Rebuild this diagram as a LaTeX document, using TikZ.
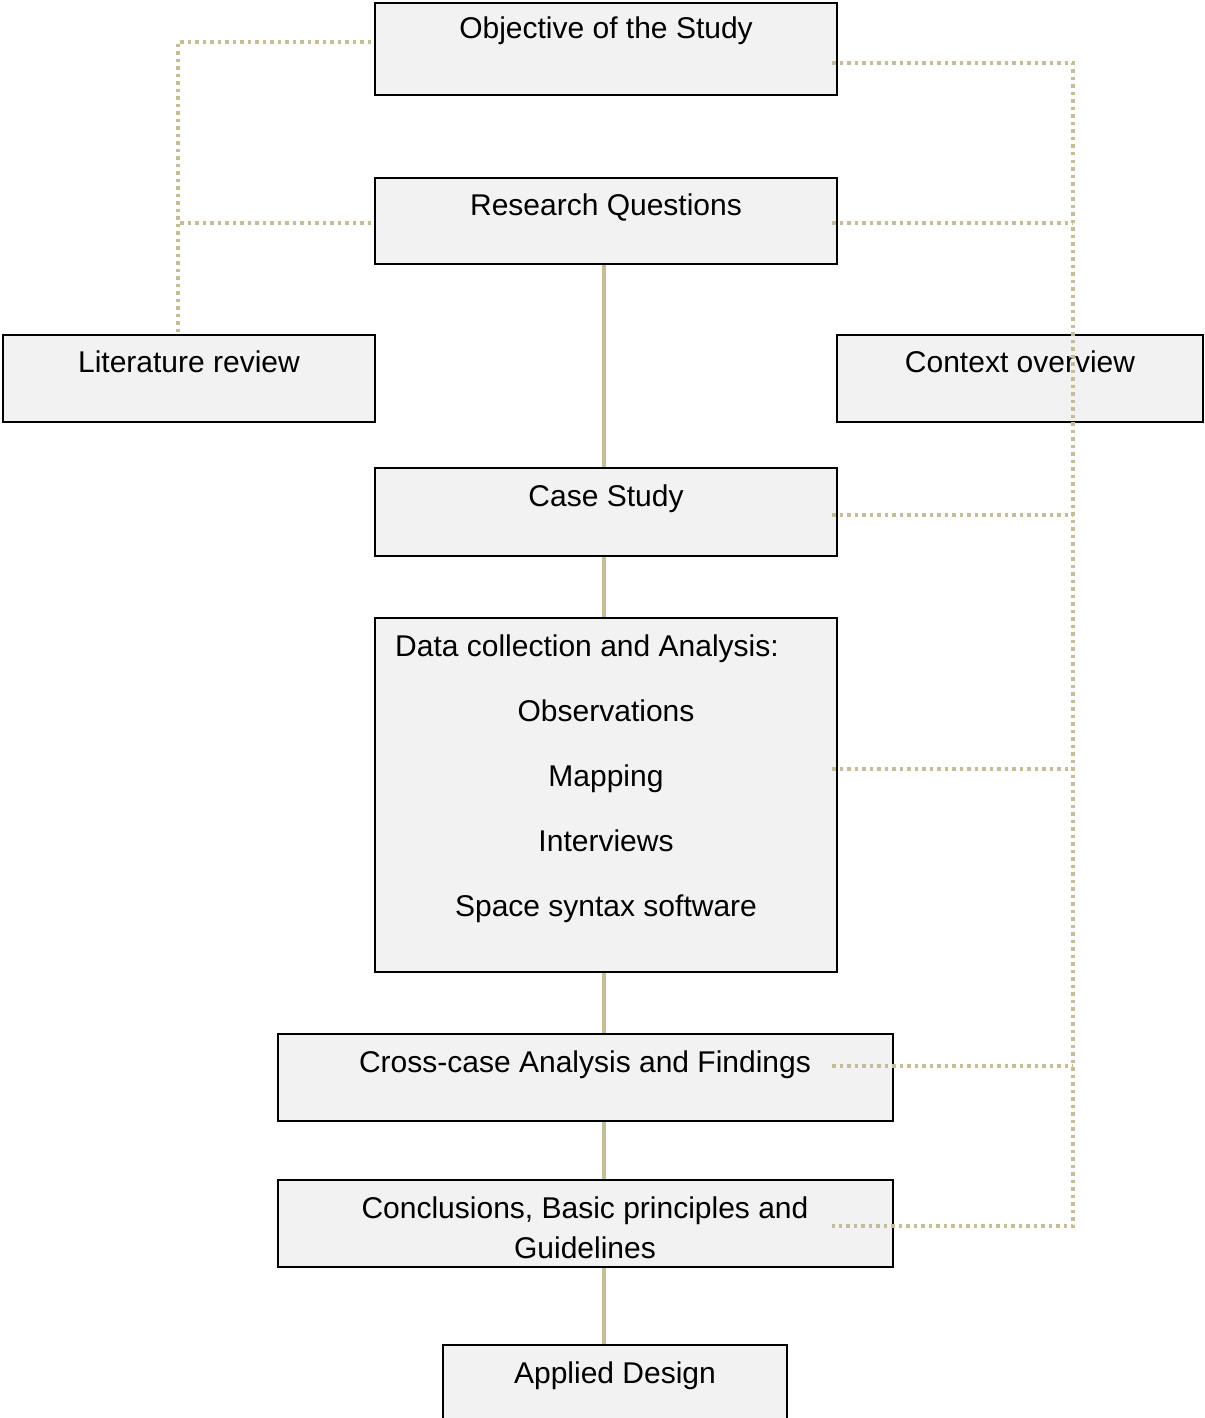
\documentclass[tikz,border=0pt]{standalone}
\usepackage{fontspec}
\setmainfont{Liberation Sans}
\definecolor{tanline}{HTML}{C4BD97}
\definecolor{boxfill}{HTML}{F2F2F2}
\tikzset{
  box/.style={draw=black, line width=1.8pt, fill=boxfill, inner sep=0pt},
  lbl/.style={font=\fontsize{30}{40}\selectfont, inner sep=0pt, anchor=base},
  conn/.style={draw=tanline, line width=3.5pt},
  dots/.style={draw=tanline, line width=3.5pt, dash pattern=on 3.5pt off 4pt}
}
\begin{document}
\begin{tikzpicture}[x=1pt,y=-1pt]
\useasboundingbox (0,0) rectangle (1204,1418);
% boxes
\node[box, minimum width=462, minimum height=92] (obj) at (606,49) {};
\node[box, minimum width=462, minimum height=86] (rq) at (606,221) {};
\node[box, minimum width=372, minimum height=87] (lit) at (189,378.5) {};
\node[box, minimum width=366, minimum height=87] (ctx) at (1020,378.5) {};
\node[box, minimum width=462, minimum height=88] (cs) at (606,512) {};
\node[box, minimum width=462, minimum height=354] (dc) at (606,795) {};
\node[box, minimum width=615, minimum height=87] (cc) at (585.5,1077.5) {};
\node[box, minimum width=615, minimum height=87] (cl) at (585.5,1223.5) {};
\node[box, minimum width=344, minimum height=100] (ad) at (615,1395) {};
% labels
\node[lbl] (tobj) at (606,39) {Objective of the Study};
\node[lbl] (trq) at (606,215) {Research Questions};
\node[lbl] (tlit) at (189,372) {Literature review};
\node[lbl] (tctx) at (1020,372) {Context overview};
\node[lbl] (tcs) at (606,506) {Case Study};
\node[lbl, anchor=base west] (tdc) at (395,656) {Data collection and Analysis:};
\node[lbl] (tobs) at (606,721) {Observations};
\node[lbl] (tmap) at (606,786) {Mapping};
\node[lbl] (tint) at (606,851) {Interviews};
\node[lbl] (tsss) at (606,916) {Space syntax software};
\node[lbl] (tcc) at (585,1072) {Cross-case Analysis and Findings};
\node[lbl] (tcl1) at (585,1218) {Conclusions, Basic principles and};
\node[lbl] (tcl2) at (585,1258) {Guidelines};
\node[lbl] (tad) at (615,1383) {Applied Design};
% solid connectors
\coordinate (sx) at (604,0);
\draw[conn] (rq.south -| sx) -- (cs.north -| sx);
\draw[conn] (cs.south -| sx) -- (dc.north -| sx);
\draw[conn] (dc.south -| sx) -- (cc.north -| sx);
\draw[conn] (cc.south -| sx) -- (cl.north -| sx);
\draw[conn] (cl.south -| sx) -- (ad.north -| sx);
% left dotted
\coordinate (lx) at (178,0);
\coordinate (l1) at (178,42);
\coordinate (l2) at (178,223);
\draw[dots] ([xshift=-3pt]obj.west |- l1) -- (l1) -- (lit.north -| lx);
\draw[dots] ([xshift=-3pt]rq.west |- l2) -- (l2);
% right dotted
\coordinate (r1) at (1073,63);
\coordinate (r2) at (1073,223);
\coordinate (r3) at (1073,515);
\coordinate (r4) at (1073,769);
\coordinate (r5) at (1073,1066);
\coordinate (r6) at (1073,1226);
\coordinate (bx) at (832,0);
\draw[dots] (bx |- r1) -- (r1) -- (r6) -- (bx |- r6);
\draw[dots] (bx |- r2) -- (r2);
\draw[dots] (bx |- r3) -- (r3);
\draw[dots] (bx |- r4) -- (r4);
\draw[dots] (bx |- r5) -- (r5);
\end{tikzpicture}
\end{document}
